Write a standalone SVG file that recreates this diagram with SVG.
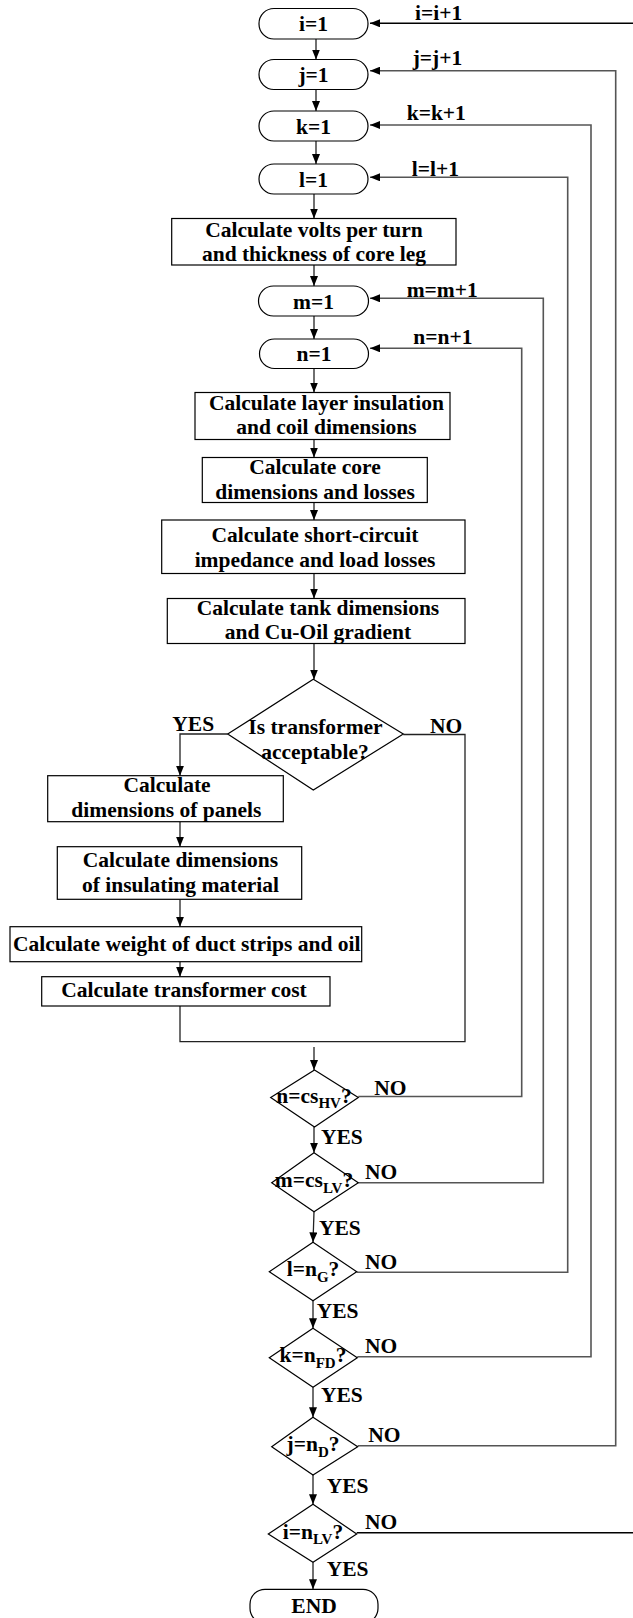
<svg xmlns="http://www.w3.org/2000/svg" width="633" height="1618" viewBox="0 0 633 1618">
<defs>
<marker id="ah" markerUnits="userSpaceOnUse" markerWidth="10" markerHeight="8" refX="10" refY="4" orient="auto">
<path d="M0,0 L10,4 L0,8 z" fill="#000"/>
</marker>
<style>
text{font-family:"Liberation Serif","Times New Roman",serif;font-weight:bold;font-size:21.5px;fill:#000}
.m{text-anchor:middle}
.sub{font-size:15px}
.node rect,.node polygon{fill:#fff;stroke:#000;stroke-width:1.2}
.c line,.c polyline{fill:none;stroke:#222;stroke-width:1.3}
.c .loop{stroke:#555;stroke-width:1.6}
.c .arr{marker-end:url(#ah)}
</style>
</defs>
<rect width="633" height="1618" fill="#fff"/>

<g id="connectors" class="c">
<line class="arr" x1="316" y1="39" x2="316" y2="59.5"/>
<line class="arr" x1="316" y1="89.5" x2="316" y2="111"/>
<line class="arr" x1="316" y1="141" x2="316" y2="164"/>
<line class="arr" x1="314" y1="194" x2="314" y2="218.5"/>
<line class="arr" x1="314" y1="265" x2="314" y2="286"/>
<line class="arr" x1="314" y1="316" x2="314" y2="339"/>
<line class="arr" x1="314" y1="369" x2="314" y2="392.5"/>
<line class="arr" x1="314" y1="439.5" x2="314" y2="457.5"/>
<line class="arr" x1="314" y1="502.5" x2="314" y2="520"/>
<line class="arr" x1="314" y1="573.5" x2="314" y2="598.5"/>
<line class="arr" x1="314" y1="643.5" x2="314" y2="679.5"/>
<polyline class="arr" points="227.7,734 180,734 180,775.7"/>
<line class="arr" x1="180" y1="821.7" x2="180" y2="846.7"/>
<line class="arr" x1="180" y1="899.3" x2="180" y2="926.7"/>
<line class="arr" x1="180" y1="961.7" x2="180" y2="976.7"/>
<polyline points="403.3,734.5 465,734.5 465,1041.7 180,1041.7 180,1006"/>
<line class="arr" x1="314" y1="1047" x2="314" y2="1070"/>
<line class="arr" x1="314" y1="1127" x2="314" y2="1152.7"/>
<line class="arr" x1="314" y1="1211.7" x2="313" y2="1242.3"/>
<line class="arr" x1="313" y1="1300.7" x2="313" y2="1328.3"/>
<line class="arr" x1="313" y1="1387.3" x2="313" y2="1417.3"/>
<line class="arr" x1="313" y1="1475" x2="313" y2="1504.3"/>
<line class="arr" x1="313" y1="1562.3" x2="313" y2="1589.3"/>
<line class="arr" x1="633" y1="23.3" x2="370" y2="23.3" style="stroke:#000;stroke-width:1.5"/>
<line x1="356.7" y1="1532.7" x2="633" y2="1532.7" style="stroke:#000;stroke-width:1.5"/>
<polyline class="loop arr" points="357.7,1445.7 615.7,1445.7 615.7,70.7 370,70.7"/>
<polyline class="loop arr" points="357.3,1356.7 591,1356.7 591,125 370,125"/>
<polyline class="loop arr" points="356.7,1272.3 567.7,1272.3 567.7,177.3 370,177.3"/>
<polyline class="loop arr" points="358.3,1182.7 543.3,1182.7 543.3,298.3 370,298.3"/>
<polyline class="loop arr" points="358.3,1096.5 521.7,1096.5 521.7,348.3 370,348.3"/>
</g>

<g id="loop-labels">
<text x="415" y="20">i=i+1</text>
<text x="412.7" y="65">j=j+1</text>
<text x="406.7" y="120">k=k+1</text>
<text x="411.7" y="176">l=l+1</text>
<text x="406.7" y="296.7">m=m+1</text>
<text x="413.3" y="344">n=n+1</text>
</g>

<g id="n-i1" class="node"><rect x="259" y="8.5" width="109" height="30.5" rx="15"/><text class="m" x="313.5" y="31">i=1</text></g>
<g id="n-j1" class="node"><rect x="259" y="59.5" width="109" height="30" rx="15"/><text class="m" x="313.5" y="82">j=1</text></g>
<g id="n-k1" class="node"><rect x="259" y="111" width="109" height="30" rx="15"/><text class="m" x="313.5" y="133.5">k=1</text></g>
<g id="n-l1" class="node"><rect x="259" y="164" width="109" height="30" rx="15"/><text class="m" x="313.5" y="186.5">l=1</text></g>

<g id="n-volts" class="node"><rect x="171.7" y="218.5" width="284.3" height="46.5"/>
<text class="m" x="314" y="236.5">Calculate volts per turn</text>
<text class="m" x="314" y="261">and thickness of core leg</text></g>

<g id="n-m1" class="node"><rect x="258.5" y="286" width="110" height="30" rx="15"/><text class="m" x="313.5" y="308.5">m=1</text></g>
<g id="n-n1" class="node"><rect x="259.5" y="339" width="109" height="29.5" rx="15"/><text class="m" x="314" y="361">n=1</text></g>

<g id="n-layer" class="node"><rect x="195" y="392.5" width="255" height="47"/>
<text class="m" x="326.5" y="410">Calculate layer insulation</text>
<text class="m" x="326.5" y="434">and coil dimensions</text></g>

<g id="n-core" class="node"><rect x="202.3" y="457.5" width="225" height="45"/>
<text class="m" x="315" y="473.5">Calculate core</text>
<text class="m" x="315" y="499">dimensions and losses</text></g>

<g id="n-short" class="node"><rect x="161.7" y="520" width="303.3" height="53.5"/>
<text class="m" x="315" y="541.7">Calculate short-circuit</text>
<text class="m" x="315" y="566.7">impedance and load losses</text></g>

<g id="n-tank" class="node"><rect x="167.3" y="598.5" width="297.7" height="45"/>
<text class="m" x="318" y="615">Calculate tank dimensions</text>
<text class="m" x="318" y="639">and Cu-Oil gradient</text></g>

<g id="n-accept" class="node"><polygon points="313.3,679.3 403.3,734 313.3,790 227.7,734"/>
<text class="m" x="315.5" y="734">Is transformer</text>
<text class="m" x="315" y="759.3">acceptable?</text></g>

<g id="branch-labels">
<text x="172.3" y="730.7">YES</text>
<text x="430" y="733.3">NO</text>
</g>

<g id="n-panels" class="node"><rect x="47.7" y="775.7" width="235.6" height="46"/>
<text class="m" x="167" y="791.7">Calculate</text>
<text class="m" x="166.3" y="817.3">dimensions of panels</text></g>

<g id="n-insul" class="node"><rect x="57.3" y="846.7" width="244.4" height="52.6"/>
<text class="m" x="180.5" y="866.7">Calculate dimensions</text>
<text class="m" x="180.5" y="892.3">of insulating material</text></g>

<g id="n-duct" class="node"><rect x="10" y="926.7" width="351.7" height="35"/>
<text class="m" x="186.7" y="950.7">Calculate weight of duct strips and oil</text></g>

<g id="n-cost" class="node"><rect x="41.7" y="976.7" width="288.3" height="29.3"/>
<text class="m" x="184" y="997.3">Calculate transformer cost</text></g>

<g id="n-d1" class="node"><polygon points="314.5,1070 358.3,1097.5 314.5,1127 270.7,1097.5"/>
<text class="m" x="314" y="1102.5">n=cs<tspan class="sub" dy="5.5">HV</tspan><tspan dy="-5.5">?</tspan></text></g>
<g id="n-d2" class="node"><polygon points="314,1152.7 358.3,1182.7 314,1211.7 271.7,1182.7"/>
<text class="m" x="314" y="1187">m=cs<tspan class="sub" dy="5.5">LV</tspan><tspan dy="-5.5">?</tspan></text></g>
<g id="n-d3" class="node"><polygon points="313,1242.3 356.7,1271.7 313,1300.7 269.3,1271.7"/>
<text class="m" x="313" y="1276">l=n<tspan class="sub" dy="5.5">G</tspan><tspan dy="-5.5">?</tspan></text></g>
<g id="n-d4" class="node"><polygon points="313,1328.3 357.3,1357.7 313,1387.3 269.3,1357.7"/>
<text class="m" x="313" y="1362">k=n<tspan class="sub" dy="5.5">FD</tspan><tspan dy="-5.5">?</tspan></text></g>
<g id="n-d5" class="node"><polygon points="313,1417.3 357.7,1446.7 313,1475 271.7,1446.7"/>
<text class="m" x="313" y="1451">j=n<tspan class="sub" dy="5.5">D</tspan><tspan dy="-5.5">?</tspan></text></g>
<g id="n-d6" class="node"><polygon points="313,1504.3 356.7,1534 313,1562.3 268.3,1534"/>
<text class="m" x="313" y="1538.5">i=n<tspan class="sub" dy="5.5">LV</tspan><tspan dy="-5.5">?</tspan></text></g>

<g id="decision-labels">
<text x="374.3" y="1095">NO</text>
<text x="321" y="1144.3">YES</text>
<text x="365" y="1179.3">NO</text>
<text x="319" y="1235">YES</text>
<text x="365" y="1269.3">NO</text>
<text x="316.7" y="1318.3">YES</text>
<text x="365" y="1353.3">NO</text>
<text x="321" y="1401.7">YES</text>
<text x="368.3" y="1442.3">NO</text>
<text x="326.7" y="1493.3">YES</text>
<text x="365" y="1529.3">NO</text>
<text x="326.7" y="1575.7">YES</text>
</g>

<g id="n-end" class="node"><rect x="250" y="1589.3" width="128" height="34" rx="15"/><text class="m" x="314" y="1613.3">END</text></g>
</svg>
